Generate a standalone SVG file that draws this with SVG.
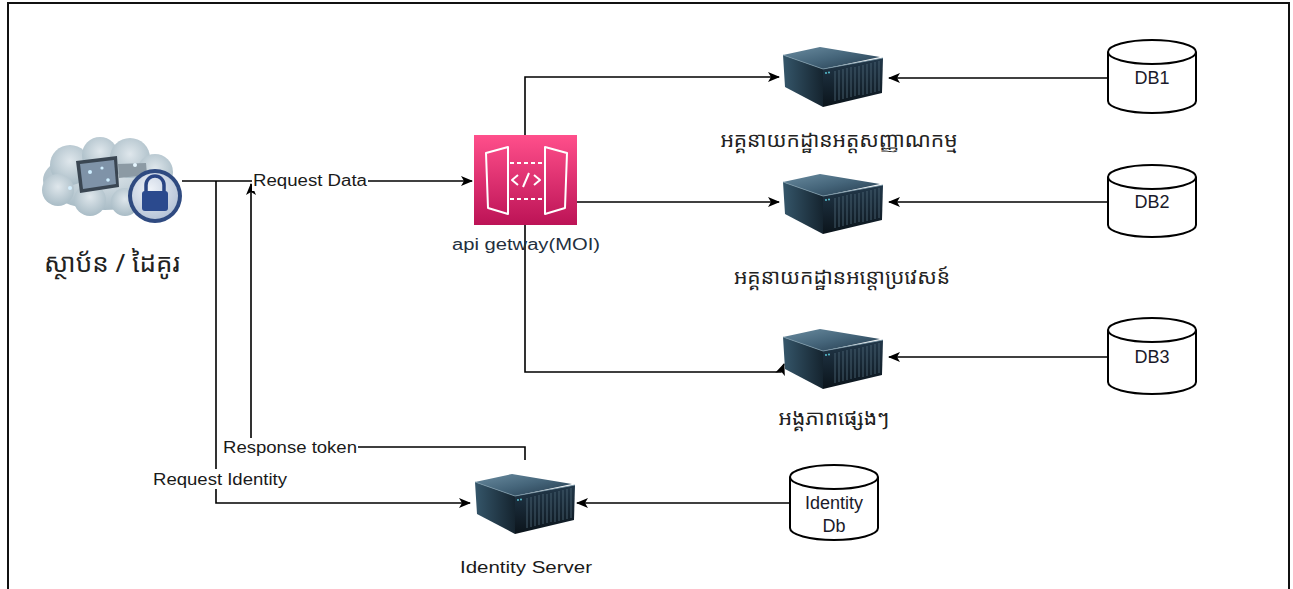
<svg xmlns="http://www.w3.org/2000/svg" width="1293" height="589" viewBox="0 0 1293 589">
<style>
.lbl{font-family:"Liberation Sans",Arial,sans-serif;font-size:16px;fill:#1a1a1a;}
.kh{font-family:"Noto Sans Khmer","Noto Serif Khmer","Khmer OS","Khmer OS System","Noto Sans",sans-serif;fill:#222;}
.conn{fill:none;stroke:#000;stroke-width:1.6;}
.db{fill:#fff;stroke:#000;stroke-width:2;}
.dbt{font-family:"Liberation Sans",Arial,sans-serif;font-size:18px;fill:#1a1a2a;text-anchor:middle;}
</style>
<defs>
<marker id="arr" markerUnits="userSpaceOnUse" markerWidth="14" markerHeight="12" refX="11" refY="6" orient="auto">
<path d="M0,1 L12,6 L0,11 L3,6 z" fill="#000"/>
</marker>
<linearGradient id="gwg" x1="0" y1="0" x2="0" y2="1">
<stop offset="0" stop-color="#FF4F8B"/>
<stop offset="1" stop-color="#BC1356"/>
</linearGradient>
<linearGradient id="topg" x1="0" y1="0" x2="1" y2="1">
<stop offset="0" stop-color="#6a8ca0"/>
<stop offset="0.5" stop-color="#45657a"/>
<stop offset="1" stop-color="#22384a"/>
</linearGradient>
<linearGradient id="sideg" x1="0" y1="0" x2="1" y2="0">
<stop offset="0" stop-color="#35566a"/>
<stop offset="1" stop-color="#15242f"/>
</linearGradient>
<linearGradient id="frontg" x1="0" y1="0" x2="0" y2="1">
<stop offset="0" stop-color="#22384a"/>
<stop offset="1" stop-color="#0b141b"/>
</linearGradient>
<radialGradient id="cloudg" cx="0.5" cy="0.4" r="0.6">
<stop offset="0" stop-color="#dfe7ec"/>
<stop offset="1" stop-color="#a9bcc6"/>
</radialGradient>
<radialGradient id="lockg" cx="0.4" cy="0.35" r="0.7">
<stop offset="0" stop-color="#eef2f8"/>
<stop offset="1" stop-color="#b4c2d6"/>
</radialGradient>
<symbol id="server" viewBox="0 0 105 64" width="105" height="64">
<polygon points="3,10 40,2 100,12 43,24" fill="url(#topg)"/>
<polygon points="3,10 43,24 43,62 5,42" fill="url(#sideg)"/>
<polygon points="43,24 103,13 102,48 43,62" fill="url(#frontg)"/>
<polyline points="3,10 43,24 103,13" fill="none" stroke="#7c9aab" stroke-width="0.8"/>
<g stroke="#4a6373" stroke-width="0.9">
<line x1="55" y1="26" x2="55" y2="56"/><line x1="59" y1="25" x2="59" y2="55"/>
<line x1="63" y1="24" x2="63" y2="54"/><line x1="67" y1="23" x2="67" y2="53"/>
<line x1="71" y1="22" x2="71" y2="52"/><line x1="75" y1="22" x2="75" y2="51"/>
<line x1="79" y1="21" x2="79" y2="50"/><line x1="83" y1="20" x2="83" y2="50"/>
<line x1="87" y1="19" x2="87" y2="49"/><line x1="91" y1="18" x2="91" y2="48"/>
<line x1="95" y1="17" x2="95" y2="47"/><line x1="99" y1="16" x2="99" y2="46"/>
</g>
<circle cx="46" cy="28" r="0.9" fill="#5fd0e0"/><circle cx="49" cy="27.5" r="0.9" fill="#5fd0e0"/>
</symbol>
</defs>
<rect x="8" y="3" width="1281" height="620" fill="#fff" stroke="#111" stroke-width="2"/>

<g id="connectors">
<path class="conn" d="M182,181 H472" marker-end="url(#arr)"/>
<path class="conn" d="M216,181 V503 H470" marker-end="url(#arr)"/>
<path class="conn" d="M525,460 V447 H251 V184" marker-end="url(#arr)"/>
<path class="conn" d="M525,135 V77 H779" marker-end="url(#arr)"/>
<path class="conn" d="M577,202 H779" marker-end="url(#arr)"/>
<path class="conn" d="M525,225 V372 H781 L784,364" marker-end="url(#arr)"/>
<path class="conn" d="M1108,78 H889" marker-end="url(#arr)"/>
<path class="conn" d="M1108,202 H889" marker-end="url(#arr)"/>
<path class="conn" d="M1108,357 H889" marker-end="url(#arr)"/>
<path class="conn" d="M790,503 H577" marker-end="url(#arr)"/>
<rect x="252" y="171" width="116" height="20" fill="#fff"/>
<text class="lbl" x="253" y="186" textLength="114" lengthAdjust="spacingAndGlyphs">Request Data</text>
<rect x="152" y="469" width="136" height="20" fill="#fff"/>
<text class="lbl" x="153" y="485" textLength="134" lengthAdjust="spacingAndGlyphs">Request Identity</text>
<rect x="222" y="438" width="136" height="19" fill="#fff"/>
<text class="lbl" x="223" y="453" textLength="134" lengthAdjust="spacingAndGlyphs">Response token</text>
</g>

<g id="client">
<g fill="url(#cloudg)">
<ellipse cx="105" cy="180" rx="62" ry="30"/>
<circle cx="70" cy="165" r="20"/>
<circle cx="100" cy="155" r="18"/>
<circle cx="130" cy="158" r="20"/>
<circle cx="155" cy="172" r="18"/>
<circle cx="58" cy="190" r="16"/>
<circle cx="90" cy="200" r="16"/>
<circle cx="125" cy="202" r="14"/>
</g>
<polygon points="76,161 117,156 119,187 80,193" fill="#3a4652"/>
<polygon points="80,164 114,160 116,184 83,189" fill="#7f93a8"/>
<circle cx="90" cy="172" r="2" fill="#cfefff"/>
<circle cx="102" cy="168" r="1.6" fill="#cfefff"/>
<circle cx="108" cy="180" r="1.8" fill="#cfefff"/>
<polygon points="118,164 146,163 147,175 119,178" fill="#8c9aa4"/>
<circle cx="135" cy="165" r="2" fill="#e6f6ff"/>
<circle cx="70" cy="188" r="2" fill="#d6f0ff"/>
<circle cx="155" cy="196" r="27" fill="#2f4a80"/>
<circle cx="155" cy="196" r="23" fill="url(#lockg)"/>
<path d="M146,192 V185 a9,9 0 0 1 18,0 V192" fill="none" stroke="#2a4584" stroke-width="3.5"/>
<rect x="142" y="191" width="26" height="20" rx="3" fill="#2b4a8e"/>
<text class="kh" x="112" y="272" font-size="26" text-anchor="middle">ស្ថាប័ន / ដៃគូរ</text>
</g>

<g id="gateway">
<rect x="474" y="135" width="103" height="90" fill="url(#gwg)"/>
<g fill="none" stroke="#fff" stroke-width="2" stroke-linejoin="round">
<polygon points="486,153 508,147 508,214 488,208"/>
<polygon points="545,147 567,153 565,208 545,214"/>
<line x1="510" y1="163" x2="544" y2="163" stroke-dasharray="4,3"/>
<line x1="510" y1="199" x2="544" y2="199" stroke-dasharray="4,3"/>
<polyline points="518,175 512,180 518,185"/>
<line x1="529" y1="173" x2="523" y2="187"/>
<polyline points="534,175 540,180 534,185"/>
</g>
<text class="lbl" x="452" y="250" textLength="148" lengthAdjust="spacingAndGlyphs" style="fill:#232F3E">api getway(MOI)</text>
</g>

<g id="server1">
<use href="#server" x="780" y="45"/>
<text class="kh" x="839" y="147" font-size="21" text-anchor="middle">អគ្គនាយកដ្ឋានអត្តសញ្ញាណកម្ម</text>
</g>
<g id="server2">
<use href="#server" x="780" y="172"/>
<text class="kh" x="842" y="284" font-size="21" text-anchor="middle">អគ្គនាយកដ្ឋានអន្តោប្រវេសន៍</text>
</g>
<g id="server3">
<use href="#server" x="780" y="327"/>
<text class="kh" x="834" y="425" font-size="21" text-anchor="middle">អង្គភាពផ្សេងៗ</text>
</g>
<g id="identity-server">
<use href="#server" x="472" y="472"/>
<text class="lbl" x="460" y="573" textLength="132" lengthAdjust="spacingAndGlyphs">Identity Server</text>
</g>

<g id="db1">
<path class="db" d="M1108,52 A44,12 0 0 1 1196,52 V101 A44,12 0 0 1 1108,101 Z M1108,52 A44,12 0 0 0 1196,52"/>
<text class="dbt" x="1152" y="84">DB1</text>
</g>
<g id="db2">
<path class="db" d="M1108,177 A44,12 0 0 1 1196,177 V225 A44,12 0 0 1 1108,225 Z M1108,177 A44,12 0 0 0 1196,177"/>
<text class="dbt" x="1152" y="208">DB2</text>
</g>
<g id="db3">
<path class="db" d="M1108,330 A44,12 0 0 1 1196,330 V382 A44,12 0 0 1 1108,382 Z M1108,330 A44,12 0 0 0 1196,330"/>
<text class="dbt" x="1152" y="363">DB3</text>
</g>
<g id="identity-db">
<path class="db" d="M790,477 A44,12 0 0 1 878,477 V528 A44,12 0 0 1 790,528 Z M790,477 A44,12 0 0 0 878,477"/>
<text class="dbt" x="834" y="509">Identity</text>
<text class="dbt" x="834" y="532">Db</text>
</g>
</svg>
